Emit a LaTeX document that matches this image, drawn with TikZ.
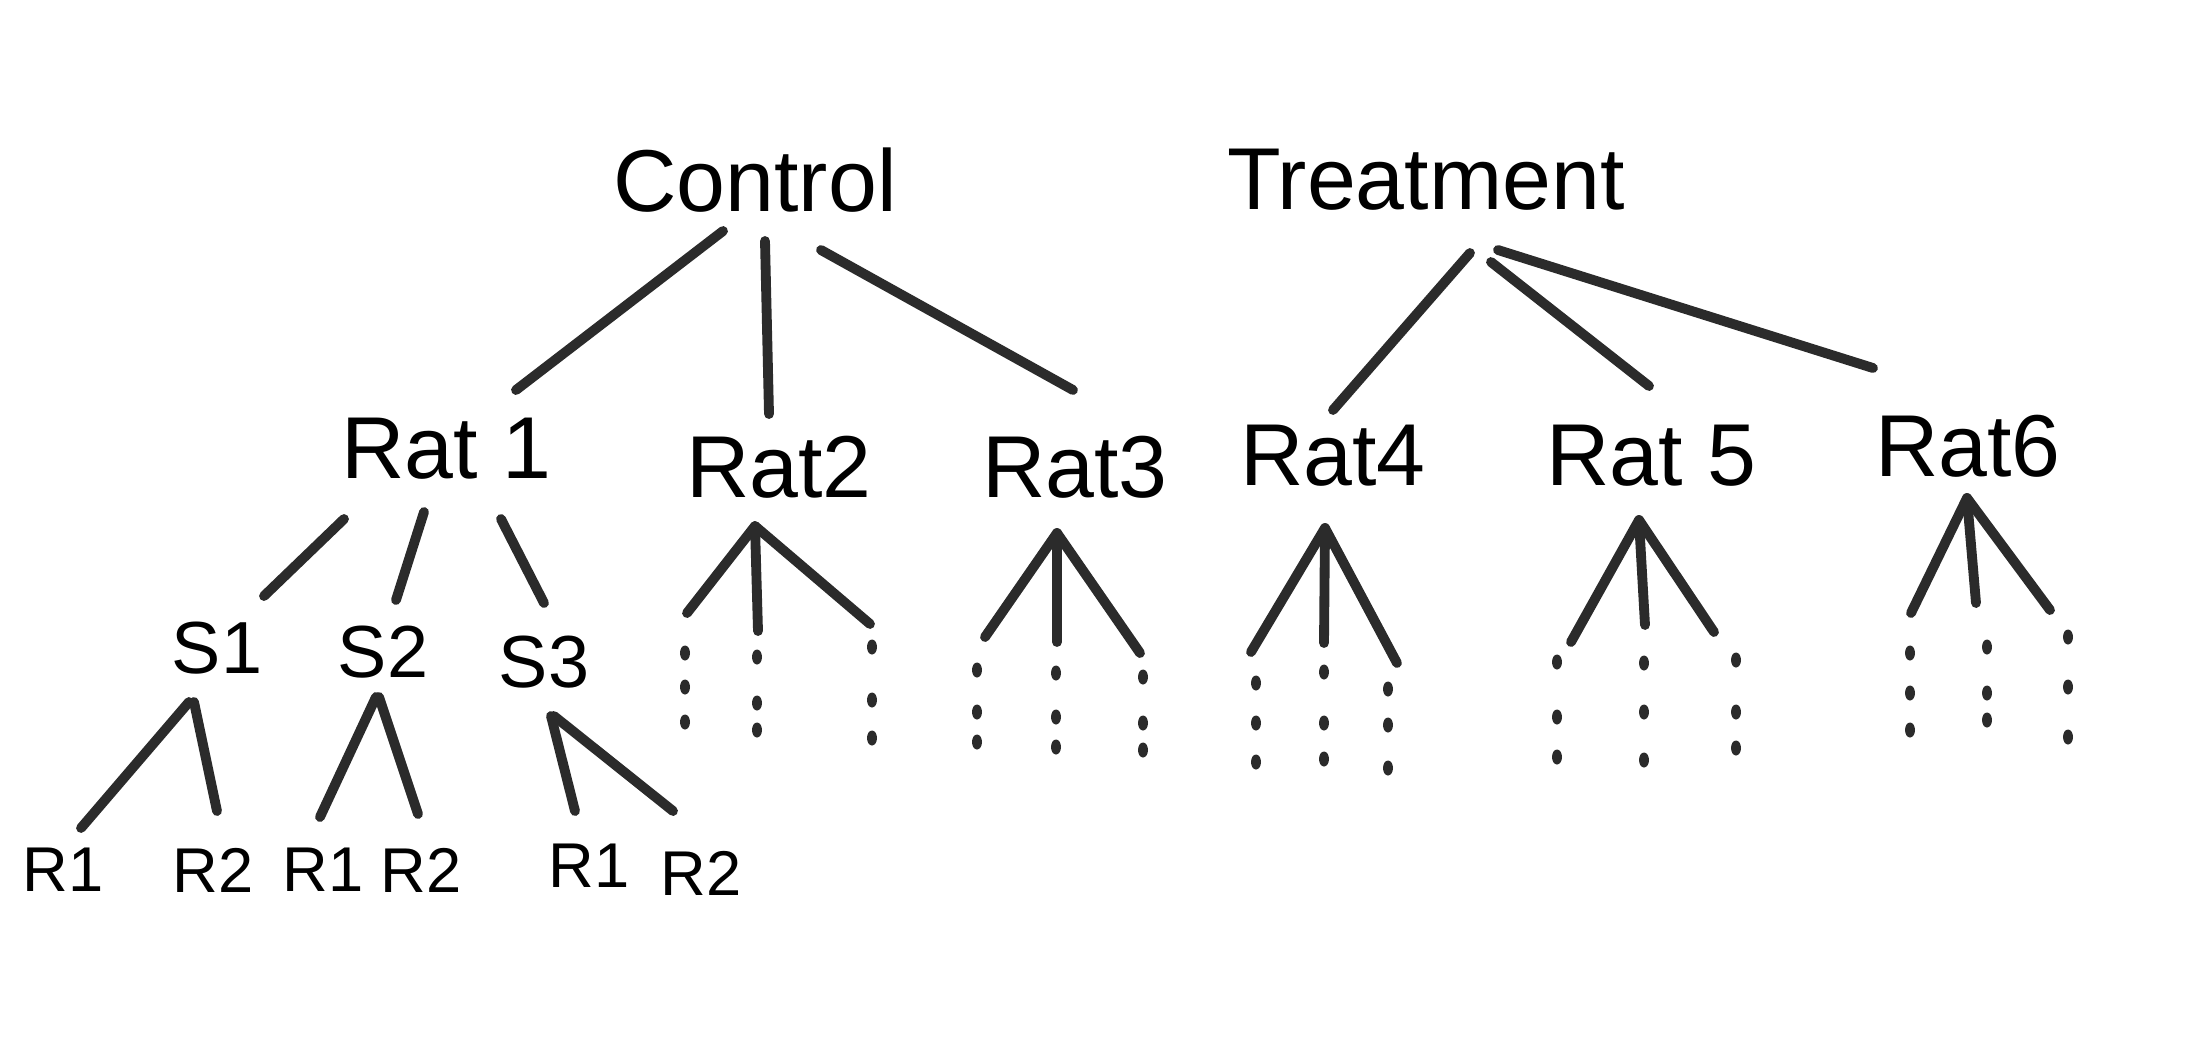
\documentclass[tikz,border=0pt]{standalone}
\usepackage{fontspec}
\setmainfont{Liberation Sans}
\definecolor{ink}{HTML}{2B2B2B}
\tikzset{
  grp/.style={font=\fontsize{25}{30}\selectfont,text=black,inner sep=2pt},
  smp/.style={font=\fontsize{21}{25}\selectfont,text=black,inner sep=2pt},
  rep/.style={font=\fontsize{18}{22}\selectfont,text=black,inner sep=2pt},
  ln/.style={line width=2.8pt,draw=ink,line cap=round,line join=round},
  pip/.style={fill=ink},
}
\begin{document}
\begin{tikzpicture}[x=0.1mm,y=-0.1mm]
\useasboundingbox (0,0) rectangle (2200,1040);
% groups
\node[grp] (ctl) at (755,180) {Control};
\node[grp] (trt) at (1426,180) {Treatment};
% rats
\node[grp] (rat1) at (446,449) {Rat 1};
\node[grp] (rat2) at (779,467) {Rat2};
\node[grp] (rat3) at (1075,467) {Rat3};
\node[grp] (rat4) at (1333,456) {Rat4};
\node[grp] (rat5) at (1651,456) {Rat 5};
\node[grp] (rat6) at (1968,446) {Rat6};
% samples of rat 1
\node[smp] (s1) at (217,648) {S1};
\node[smp] (s2) at (383,652) {S2};
\node[smp] (s3) at (544,662) {S3};
% replicates
\node[rep] (s1r1) at (63,870) {R1};
\node[rep] (s1r2) at (213,870) {R2};
\node[rep] (s2r1) at (323,870) {R1};
\node[rep] (s2r2) at (421,870) {R2};
\node[rep] (s3r1) at (589,866) {R1};
\node[rep] (s3r2) at (701,873) {R2};

% group -> rat
\draw[ln] ([shift={(-32,51)}]ctl.center) -- ([shift={(70,-59)}]rat1.center);
\draw[ln] ([shift={(10,61)}]ctl.center) -- ([shift={(-10,-53)}]rat2.center);
\draw[ln] ([shift={(66,70)}]ctl.center) -- ([shift={(-2,-77)}]rat3.center);
\draw[ln] ([shift={(44,73)}]trt.center) -- ([shift={(0,-46)}]rat4.center);
\draw[ln] ([shift={(65,82)}]trt.center) -- ([shift={(-2,-70)}]rat5.center);
\draw[ln] ([shift={(72,70)}]trt.center) -- ([shift={(-95,-78)}]rat6.center);
% rat 1 -> samples
\draw[ln] ([shift={(-102,70)}]rat1.center) -- ([shift={(47,-52)}]s1.center);
\draw[ln] ([shift={(-22,63)}]rat1.center) -- ([shift={(13,-52)}]s2.center);
\draw[ln] ([shift={(55,70)}]rat1.center) -- ([shift={(0,-59)}]s3.center);
% samples -> replicates
\draw[ln] ([shift={(-28,54)}]s1.center) -- ([shift={(18,-42)}]s1r1.center);
\draw[ln] ([shift={(-23,54)}]s1.center) -- ([shift={(4,-59)}]s1r2.center);
\draw[ln] ([shift={(-7,45)}]s2.center) -- ([shift={(-3,-53)}]s2r1.center);
\draw[ln] ([shift={(-4,45)}]s2.center) -- ([shift={(-3,-56)}]s2r2.center);
\draw[ln] ([shift={(7,54)}]s3.center) -- ([shift={(-14,-55)}]s3r1.center);
\draw[ln] ([shift={(10,54)}]s3.center) -- ([shift={(-28,-62)}]s3r2.center);

% open fans under the other rats
\coordinate (f2a) at (687,613);  \coordinate (f2b) at (758,631);  \coordinate (f2c) at (870,624);
\coordinate (f3a) at (985,637);  \coordinate (f3b) at (1057,642); \coordinate (f3c) at (1140,653);
\coordinate (f4a) at (1251,652); \coordinate (f4b) at (1324,643); \coordinate (f4c) at (1397,663);
\coordinate (f5a) at (1571,642); \coordinate (f5b) at (1645,625); \coordinate (f5c) at (1714,632);
\coordinate (f6a) at (1911,613); \coordinate (f6b) at (1976,603); \coordinate (f6c) at (2050,610);
\foreach \r/\dx/\dy in {2/-24/59,3/-18/66,4/-8/72,5/-12/64,6/-1/52} {
  \coordinate (ap\r) at ([shift={(\dx,\dy)}]rat\r.center);
  \draw[ln] (f\r a) -- (ap\r) -- (f\r c);
  \draw[ln] (ap\r) -- (f\r b);
}
% dotted columns
\foreach \x/\ya/\yb/\yc in {685/653/687/722,757/657/703/730,872/647/700/738,
    977/670/712/742,1056/673/717/747,1143/677/723/750,
    1256/683/723/762,1324/672/723/759,1388/689/725/768,
    1557/662/717/757,1644/663/712/760,1736/660/712/748,
    1910/653/693/730,1987/647/693/720,2068/637/687/737} {
  \foreach \y in {\ya,\yb,\yc}
    \fill[pip] (\x,\y) ellipse [x radius=0.5mm, y radius=0.75mm];
}
\end{tikzpicture}
\end{document}
